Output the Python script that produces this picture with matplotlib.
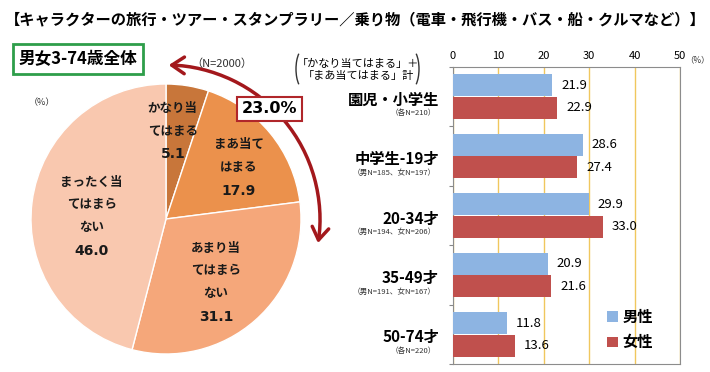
import matplotlib
matplotlib.use("Agg")
import matplotlib.pyplot as plt
import numpy as np
from matplotlib.patches import FancyArrowPatch, Arc
from matplotlib.path import Path
from matplotlib.transforms import offset_copy

plt.rcParams['font.family'] = ['Noto Sans CJK JP', 'DejaVu Sans']

# pie data
pie_labels = ['かなり当\nてはまる', 'まあ当て\nはまる', 'あまり当\nてはまら\nない', 'まったく当\nてはまら\nない']
pie_values = [5.1, 17.9, 31.1, 46.0]
pie_colors = ['#C8763A', '#EB914C', '#F5A77A', '#F9C8AF']

# bar data
groups = ['園児・小学生', '中学生-19才', '20-34才', '35-49才', '50-74才']
group_notes = ['（各N=210）', '（男N=185、女N=197）', '（男N=194、女N=206）',
               '（男N=191、女N=167）', '（各N=220）']
male = [21.9, 28.6, 29.9, 20.9, 11.8]
female = [22.9, 27.4, 33.0, 21.6, 13.6]

W, H = 710, 372
fig = plt.figure(figsize=(W / 100, H / 100), dpi=100)


def fx(px):
    return px / W


def fy(py):
    return 1 - py / H


fig.text(fx(5), fy(19), '【キャラクターの旅行・ツアー・スタンプラリー／乗り物（電車・飛行機・バス・船・クルマなど）】',
         fontsize=11, fontweight='bold', ha='left', va='center')

# ---- pie ----
cx, cy, r = 166, 219, 135
ax1 = fig.add_axes([fx(cx - r), fy(cy + r), 2 * r / W, 2 * r / H])
ax1.pie(pie_values, colors=pie_colors, startangle=90, counterclock=False,
        wedgeprops=dict(edgecolor='white', linewidth=1))
ax1.set_xlim(-1, 1)
ax1.set_ylim(-1, 1)
ax1.set_aspect('auto')
ax1.axis('off')

step = 23 * 72 / 100  # line step in points
label_pos = [(0.05, 0.65), (0.54, 0.38), (0.37, -0.47), (-0.55, 0.02)]
for lab, v, (x, y) in zip(pie_labels, pie_values, label_pos):
    n = lab.count('\n') + 2
    t_lab = offset_copy(ax1.transData, fig=fig, x=0, y=step / 2, units='points')
    t_num = offset_copy(ax1.transData, fig=fig, x=0, y=-(n - 1) / 2 * step, units='points')
    ax1.text(x, y, lab, transform=t_lab, ha='center', va='center', fontsize=9,
             fontweight='bold', linespacing=1.95, color='#1a1a1a')
    ax1.text(x, y, f'{v:.1f}', transform=t_num, ha='center', va='center', fontsize=10,
             fontweight='bold', color='#1a1a1a', family=['DejaVu Sans'])

# curved arrow around the top-right of the pie
R = 1.14
arc = Path.arc(-9, 89)
verts = arc.vertices[::-1] * R
arrow = FancyArrowPatch(path=Path(verts, arc.codes), arrowstyle='<->,head_length=6,head_width=4',
                        color='#A3181C', lw=2.5, clip_on=False, mutation_scale=1.5)
ax1.add_patch(arrow)

ax1.text(0.77, 0.815, '23.0%', ha='center', va='center', fontsize=11.5, fontweight='bold',
         family=['DejaVu Sans'],
         bbox=dict(boxstyle='square,pad=0.3', fc='white', ec='#B0262A', lw=1.5), zorder=5)

fig.text(fx(78), fy(59), '男女3-74歳全体', fontsize=12, fontweight='bold', ha='center', va='center',
         bbox=dict(boxstyle='square,pad=0.35', fc='white', ec='#2E9E4A', lw=2))
fig.text(fx(222), fy(64), '（N=2000）', fontsize=8, ha='center', va='center', color='#333333')
fig.text(fx(42), fy(103), '（%）', fontsize=6.5, ha='center', va='center', color='#333333')

fig.text(fx(358), fy(70), '「かなり当てはまる」＋\n「まあ当てはまる」計', fontsize=8, ha='center',
         va='center', linespacing=1.3)
fig.add_artist(Arc((fx(304), fy(69)), 16 / W, 40 / H, theta1=100, theta2=260,
                   transform=fig.transFigure, color='#333333', lw=1))
fig.add_artist(Arc((fx(411), fy(69)), 16 / W, 40 / H, theta1=-80, theta2=80,
                   transform=fig.transFigure, color='#333333', lw=1))

# ---- bars ----
ax2 = fig.add_axes([fx(453), fy(364), 227 / W, 297 / H])
y = np.arange(len(groups))
h = 0.37
ax2.barh(y - 0.19, male, height=h, color='#8DB4E2', label='男性', zorder=3)
ax2.barh(y + 0.19, female, height=h, color='#C0504D', label='女性', zorder=3)
for i in range(len(groups)):
    ax2.text(male[i] + 2, y[i] - 0.19, f'{male[i]:.1f}', va='center', fontsize=9.5)
    ax2.text(female[i] + 2, y[i] + 0.19, f'{female[i]:.1f}', va='center', fontsize=9.5)

ax2.set_xlim(0, 50)
ax2.set_ylim(4.5, -0.5)
ax2.xaxis.tick_top()
ax2.set_xticks(range(0, 51, 10))
ax2.tick_params(axis='x', length=0, labelsize=8, pad=4)
ax2.set_yticks(np.arange(-0.5, 4.6, 1))
ax2.set_yticklabels([])
ax2.tick_params(axis='y', length=3, color='#888888', direction='out')
ax2.grid(axis='x', color='#F0C75E', lw=1, zorder=0)
for s in ax2.spines.values():
    s.set_color('#8C8C8C')

tr = ax2.get_yaxis_transform()
for i, (g, n) in enumerate(zip(groups, group_notes)):
    ax2.text(-0.062, i + 0.05, g, transform=tr, ha='right', va='center', fontsize=11, fontweight='bold')
    ax2.text(-0.075, i + 0.28, n, transform=tr, ha='right', va='center', fontsize=5.5, color='#333333')

fig.text(fx(697), fy(60), '（%）', fontsize=6, ha='center', va='center', color='#333333')

ax2.legend(loc='lower left', bbox_to_anchor=(0.62, 0.0), frameon=False, handlelength=0.7,
           handleheight=0.7, handletextpad=0.3, labelspacing=0.6,
           prop=dict(weight='bold', size=11))

fig.savefig('out.png', dpi=100)
